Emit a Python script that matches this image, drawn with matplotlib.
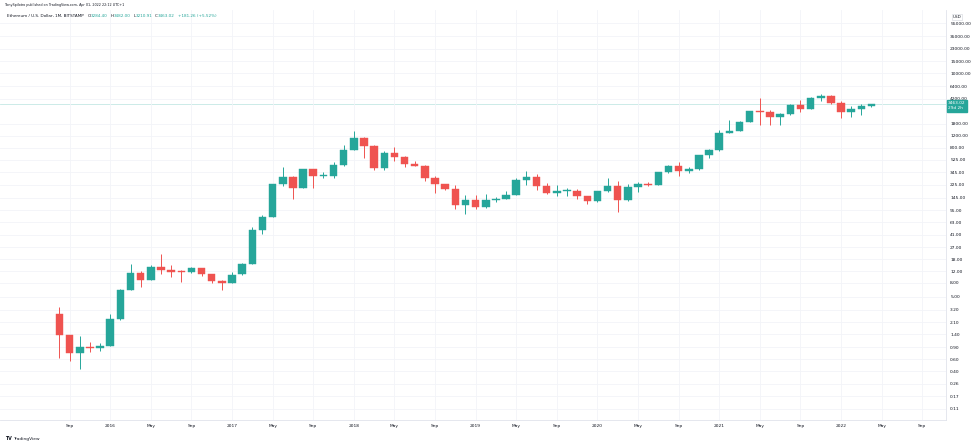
import numpy as np
import pandas as pd
import matplotlib.pyplot as plt

# Monthly ETH/USD candles, Aug 2015 .. Apr 2022
opens = [2.78, 1.36, 0.74, 0.91, 0.87, 0.94, 2.36, 6.3, 11.2, 8.8,
         13.8, 12.4, 11.8, 11.5, 13.2, 10.9, 8.6, 8.0, 10.7, 15.4,
         48.5, 76, 230, 296, 203, 384, 303, 305, 435, 736,
         1100, 855, 396, 668, 577, 455, 433, 283, 232, 198,
         113, 133, 107, 136, 141, 162, 268, 291, 218, 172,
         180, 183, 152, 130, 180, 218, 133, 206, 231, 225,
         345, 434, 360, 386, 615, 737, 1314, 1417, 1919, 2773,
         2706, 2274, 2530, 3430, 3000, 4288, 4630, 3680, 2688, 2920,
         3284.40]
highs = [3.55, 1.38, 1.30, 1.07, 1.03, 2.78, 6.6, 15.3, 12.0, 14.7,
         21.3, 14.7, 12.5, 13.6, 13.4, 11.0, 8.7, 11.8, 15.9, 53,
         81, 232, 412, 300, 390, 390, 349, 490, 870, 1400,
         1160, 880, 700, 826, 600, 498, 440, 300, 235, 224,
         160, 160, 165, 151, 184, 288, 357, 320, 240, 225,
         199, 195, 155, 185, 288, 253, 228, 245, 250, 348,
         445, 490, 415, 621, 755, 1475, 2042, 1945, 2790, 4372,
         2890, 2550, 3470, 4030, 4460, 4870, 4780, 3900, 3280, 3480,
         3482.00]
lows = [0.62, 0.56, 0.43, 0.77, 0.78, 0.93, 2.3, 6.2, 7.0, 8.7,
        10.7, 9.8, 8.3, 11.3, 10.2, 7.9, 6.2, 7.9, 10.5, 15.0,
        42, 76, 214, 139, 203, 203, 285, 285, 420, 736,
        560, 370, 370, 500, 416, 430, 256, 172, 188, 100,
        84, 100, 102, 126, 140, 157, 225, 192, 166, 155,
        153, 140, 118, 127, 176, 90, 130, 176, 215, 223,
        335, 308, 335, 373, 560, 715, 1300, 1400, 1900, 1730,
        1700, 1720, 2450, 2650, 2970, 3950, 3500, 2160, 2300, 2450,
        3210.91]
closes = [1.36, 0.74, 0.91, 0.87, 0.93, 2.36, 6.3, 11.2, 8.8, 13.8,
          12.4, 11.8, 11.5, 13.2, 10.9, 8.6, 8.0, 10.5, 15.4, 48.5,
          76, 230, 296, 203, 384, 303, 305, 435, 736, 1100,
          855, 396, 668, 577, 455, 433, 283, 232, 198, 113,
          133, 107, 136, 141, 162, 268, 291, 218, 172, 180,
          183, 152, 130, 180, 218, 133, 206, 231, 225, 345,
          434, 360, 386, 615, 737, 1314, 1417, 1919, 2773, 2706,
          2274, 2530, 3430, 3000, 4288, 4630, 3680, 2688, 2920, 3281.76,
          3463.02]

price_ticks = [0.11, 0.17, 0.26, 0.40, 0.60, 0.90, 1.40, 2.10, 3.20, 5.00,
               8.00, 12.00, 18.00, 27.00, 41.00, 63.00, 95.00, 145.00, 225.00,
               345.00, 525.00, 800.00, 1200.00, 1800.00, 4200.00, 6400.00,
               10000.00, 15000.00, 23000.00, 35000.00, 55000.00]

months = pd.period_range("2015-08", periods=len(opens), freq="M")
axis_months = pd.period_range("2015-08", "2022-09", freq="M")

header = "TonySpilotro published on TradingView.com, Apr 01, 2022 22:12 UTC+1"
symbol = "Ethereum / U.S. Dollar, 1M, BITSTAMP"
countdown = "29d 2h"

GREEN = "#26a69a"
RED = "#ef5350"
TEXT = "#131722"
GRID = "#f2f4f8"

o = np.array(opens); h = np.array(highs); l = np.array(lows); c = np.array(closes)
x = np.arange(len(months))
up = c >= o
colors = np.where(up, GREEN, RED)

W, H = 980, 446
fig = plt.figure(figsize=(W / 100, H / 100), dpi=100)
ax = fig.add_axes([0, 1 - 420 / H, 946 / W, 410 / H])

# candles
ax.vlines(x, l, h, colors=colors, lw=0.7, zorder=2)
lo = np.minimum(o, c)
hi = np.maximum(np.maximum(o, c), lo * 1.035)
ax.bar(x, hi - lo, bottom=lo, width=0.74, color=colors, edgecolor=colors,
       lw=0.3, zorder=3)

# last price line
ax.axhline(c[-1], color="#c4e8e4", lw=0.6, zorder=1)

ax.set_yscale("log")
ax.set_ylim(0.0756, 86100)
ax.set_xlim(-5.86, 87.34)

# price scale on the right
ax.yaxis.tick_right()
ax.set_yticks(price_ticks)
ax.set_yticklabels([f"{v:.2f}" for v in price_ticks])
ax.yaxis.set_minor_locator(plt.NullLocator())
ax.tick_params(axis="y", length=0, pad=3, labelsize=3.2, labelcolor=TEXT)

# time scale
tick_idx = [i for i, m in enumerate(axis_months) if m.month in (1, 5, 9)]
tick_lab = [str(axis_months[i].year) if axis_months[i].month == 1
            else axis_months[i].strftime("%b") for i in tick_idx]
ax.set_xticks(tick_idx)
ax.set_xticklabels(tick_lab)
ax.tick_params(axis="x", length=0, pad=3, labelsize=3.2, labelcolor=TEXT)

ax.grid(True, color=GRID, lw=0.6, zorder=0)
for side in ("top", "left"):
    ax.spines[side].set_visible(False)
for side in ("right", "bottom"):
    ax.spines[side].set_color("#e0e3eb")
    ax.spines[side].set_linewidth(0.6)

# last price label on the scale
ax.annotate(f"{c[-1]:.2f}\n{countdown}", xy=(1, c[-1]),
            xycoords=ax.get_yaxis_transform(), xytext=(1.5, 2.2),
            textcoords="offset points", ha="left", va="top", fontsize=3.1,
            color="white", linespacing=1.2, annotation_clip=False,
            bbox=dict(boxstyle="square,pad=0.35", fc=GREEN, ec=GREEN))

# currency label
fig.text(957 / W, 1 - 17 / H, "USD", fontsize=3.0, color=TEXT, ha="center",
         va="center", bbox=dict(boxstyle="square,pad=0.25", fc="white",
                                ec="#d1d4dc", lw=0.4))

# header
fig.text(5 / W, 1 - 5 / H, header, fontsize=2.45, color=TEXT, va="center")

chg = c[-1] - c[-2]
parts = [(symbol, TEXT, 0), ("O", TEXT, 3), (f"{o[-1]:.2f}", GREEN, 0),
         ("H", TEXT, 2), (f"{h[-1]:.2f}", GREEN, 0), ("L", TEXT, 2),
         (f"{l[-1]:.2f}", GREEN, 0), ("C", TEXT, 2), (f"{c[-1]:.2f}", GREEN, 0),
         (f"+{chg:.2f} (+{chg / c[-2] * 100:.2f}%)", GREEN, 2)]
t = fig.text(7 / W, 1 - 16 / H, parts[0][0], fontsize=3.0, color=parts[0][1],
             va="center")
for s, col, gap in parts[1:]:
    t = ax.annotate(s, xy=(1, 0), xycoords=t, xytext=(gap, 0),
                    textcoords="offset points", fontsize=3.0, color=col,
                    va="bottom", ha="left", annotation_clip=False)

# footer
fig.text(5 / W, 1 - 439 / H, "TV", fontsize=3.4, color=TEXT, weight="bold",
         va="center")
fig.text(13 / W, 1 - 439 / H, "TradingView", fontsize=3.2, color=TEXT,
         va="center")

fig.savefig("out.png", dpi=100, facecolor="white")
